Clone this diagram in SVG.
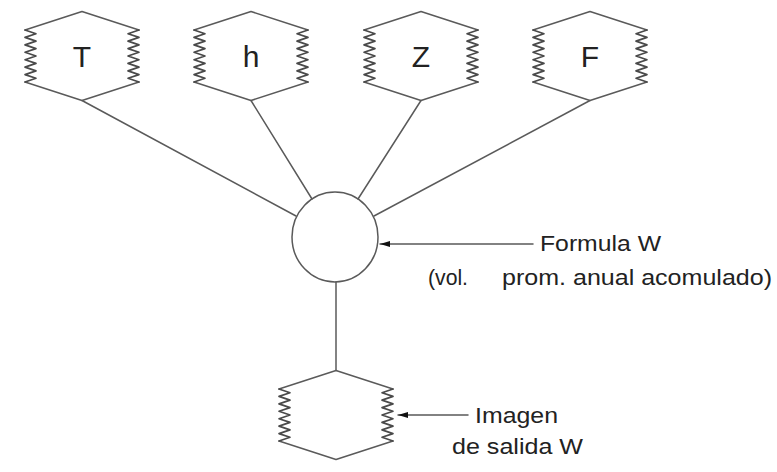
<svg xmlns="http://www.w3.org/2000/svg" xmlns:xlink="http://www.w3.org/1999/xlink" width="777" height="472" viewBox="0 0 777 472">
<style>
.ln{stroke:#5a5a5a;stroke-width:1.5;fill:none;stroke-linejoin:round;stroke-linecap:round}
.sp{stroke:#4a4a4a;stroke-width:1.7;fill:none;stroke-linejoin:round;stroke-linecap:round}
.lbl{font-family:"Liberation Sans",Arial,sans-serif;font-size:30px;fill:#222;text-anchor:middle}
.txt{font-family:"Liberation Sans",Arial,sans-serif;font-size:22px;fill:#222}
</style>
<defs>
<marker id="ah" viewBox="0 0 10 6" refX="10" refY="3" markerWidth="10" markerHeight="6" markerUnits="userSpaceOnUse" orient="auto">
<path d="M0,0 L10,3 L0,6 Z" fill="#111"/>
</marker>
<g id="hex">
<path class="ln" d="M-57,-26 L0,-44.5 L57,-26 M-57,26 L0,44.5 L57,26"/>
<path class="sp" d="M-57,-26 L-46,-22.29 L-57,-18.57 L-46,-14.86 L-57,-11.14 L-46,-7.43 L-57,-3.71 L-46,0 L-57,3.71 L-46,7.43 L-57,11.14 L-46,14.86 L-57,18.57 L-46,22.29 L-57,26"/>
<path class="sp" d="M57,-26 L46,-22.29 L57,-18.57 L46,-14.86 L57,-11.14 L46,-7.43 L57,-3.71 L46,0 L57,3.71 L46,7.43 L57,11.14 L46,14.86 L57,18.57 L46,22.29 L57,26"/>
</g>
</defs>
<rect width="777" height="472" fill="#fff"/>
<g id="connectors">
<line class="ln" x1="82" y1="100.5" x2="296" y2="216"/>
<line class="ln" x1="251" y1="100.5" x2="312" y2="199"/>
<line class="ln" x1="421" y1="100.5" x2="358" y2="199"/>
<line class="ln" x1="590" y1="100.5" x2="374" y2="216"/>
<line class="ln" x1="336" y1="282" x2="336" y2="370.5"/>
<line class="ln" x1="533" y1="244" x2="380" y2="244" marker-end="url(#ah)"/>
<line class="ln" x1="468" y1="415" x2="398" y2="415" marker-end="url(#ah)"/>
</g>
<g id="node-T"><use xlink:href="#hex" href="#hex" transform="translate(82,56)"/><text class="lbl" x="82" y="67">T</text></g>
<g id="node-h"><use xlink:href="#hex" href="#hex" transform="translate(251,56)"/><text class="lbl" x="251" y="67">h</text></g>
<g id="node-Z"><use xlink:href="#hex" href="#hex" transform="translate(421,56)"/><text class="lbl" x="421" y="67">Z</text></g>
<g id="node-F"><use xlink:href="#hex" href="#hex" transform="translate(590,56)"/><text class="lbl" x="590" y="67">F</text></g>
<g id="node-formula"><ellipse class="ln" cx="335" cy="237" rx="43" ry="45" fill="#fff"/></g>
<g id="node-output"><use xlink:href="#hex" href="#hex" transform="translate(336,415)"/></g>
<g id="label-formula">
<text class="txt" x="540" y="251" textLength="121" lengthAdjust="spacingAndGlyphs">Formula W</text>
<text class="txt" y="285"><tspan x="428" textLength="40" lengthAdjust="spacingAndGlyphs">(vol.</tspan><tspan x="502" textLength="270" lengthAdjust="spacingAndGlyphs">prom. anual acomulado)</tspan></text>
</g>
<g id="label-output">
<text class="txt" x="475" y="423" textLength="83" lengthAdjust="spacingAndGlyphs">Imagen</text>
<text class="txt" x="452" y="454" textLength="131" lengthAdjust="spacingAndGlyphs">de salida W</text>
</g>
</svg>
